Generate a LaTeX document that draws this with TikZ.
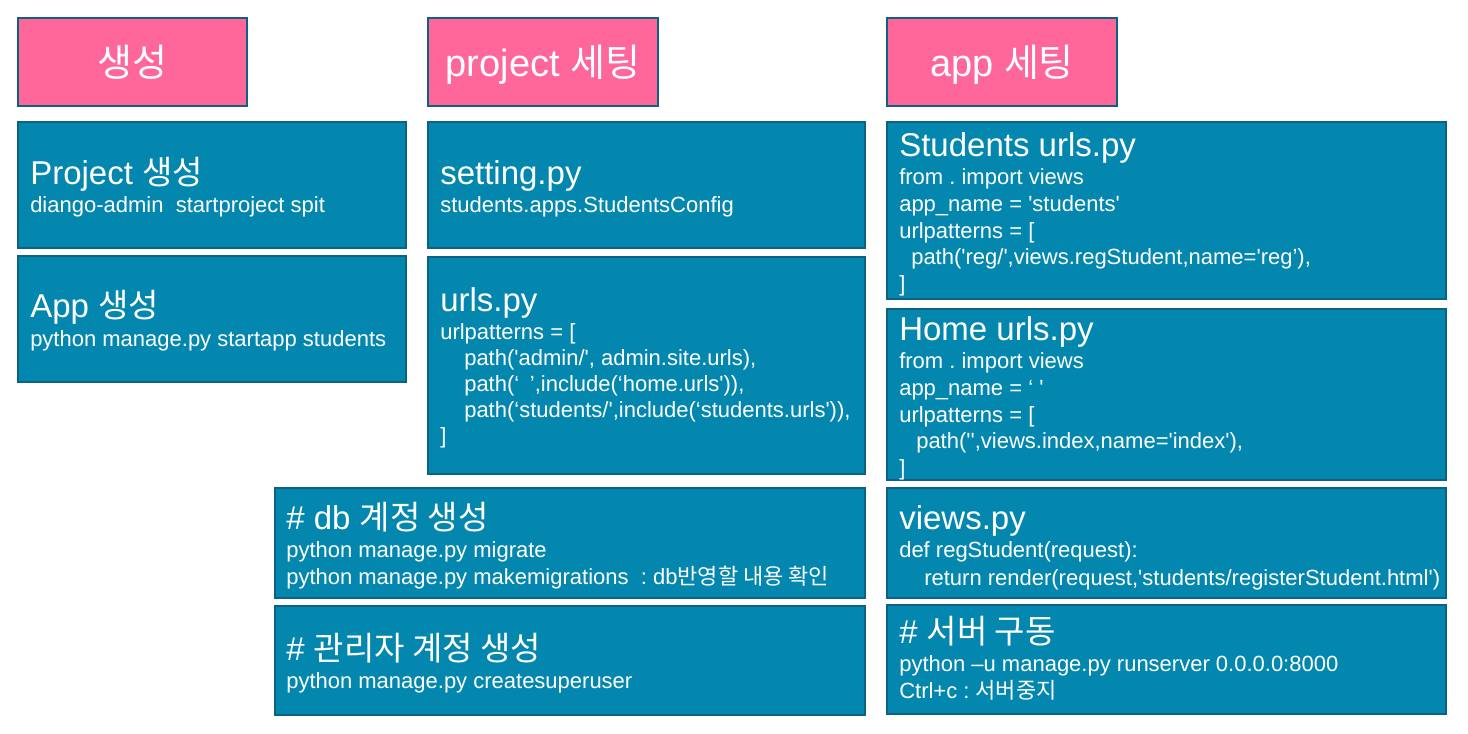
\documentclass[tikz,border=0pt]{standalone}
\usepackage{fontspec}
\setmainfont{Liberation Sans}[Ligatures=TeXOff]
\newfontfamily\kr{Noto Sans CJK KR}
\newcommand\ko[1]{{\kr #1}}
\usetikzlibrary{fit}
\definecolor{tealfill}{RGB}{3,135,174}
\definecolor{tealline}{RGB}{12,98,130}
\definecolor{pinkfill}{RGB}{255,102,153}
\frenchspacing
\begin{document}
\begin{tikzpicture}[x=0.75pt,y=-0.75pt,
  card/.style={draw=tealline, line width=1.5pt, fill=tealfill, inner sep=0pt},
  pinkcard/.style={card, fill=pinkfill},
  ttl/.style={text=white, inner sep=0pt, anchor=base west, font=\fontsize{24.75}{29}\selectfont},
  txt/.style={text=white, inner sep=0pt, anchor=base west, font=\fontsize{16.5}{20}\selectfont},
  lbl/.style={text=white, inner sep=0pt, anchor=base, font=\fontsize{28.5}{32}\selectfont}]
\useasboundingbox (0,0) rectangle (1468,733);

% header boxes
\node[pinkcard, fit={(18,18) (247,106)}] (h1) {};
\node[pinkcard, fit={(428,18) (658,106)}] (h2) {};
\node[pinkcard, fit={(887,18) (1117,106)}] (h3) {};
\node[lbl] (h1t) at (132.5,76) {\ko{생성}};
\node[lbl] (h2t) at (543,76) {project \ko{세팅}};
\node[lbl] (h3t) at (1002,76) {app \ko{세팅}};

% column 1
\node[card, fit={(18,122) (406,248)}] (c1a) {};
\node[ttl] (c1a1) at (30,184) {Project \ko{생성}};
\node[txt] (c1a2) at (30,212) {diango-admin\ \ startproject spit};
\node[card, fit={(18,256) (406,382)}] (c1b) {};
\node[ttl] (c1b1) at (30,317) {App \ko{생성}};
\node[txt] (c1b2) at (30,346) {python manage.py startapp students};

% column 2
\node[card, fit={(428,122) (865,248)}] (c2a) {};
\node[ttl] (c2a1) at (440,184) {setting.py};
\node[txt] (c2a2) at (440,212) {students.apps.StudentsConfig};
\node[card, fit={(428,257) (865,474)}] (c2b) {};
\node[ttl] (c2b1) at (440,311) {urls.py};
\node[txt] (c2b2) at (440,339) {urlpatterns = [};
\node[txt] (c2b3) at (464,365) {path('admin/', admin.site.urls),};
\node[txt] (c2b4) at (464,391) {path(‘\hspace{8pt}’,include(‘home.urls')),};
\node[txt] (c2b5) at (464,417) {path(‘students/',include(‘students.urls')),};
\node[txt] (c2b6) at (440,443) {]};

\node[card, fit={(275,488) (865,598)}] (c2c) {};
\node[ttl] (c2c1) at (286,529) {\# db \ko{계정 생성}};
\node[txt] (c2c2) at (286,557) {python manage.py migrate};
\node[txt] (c2c3) at (286,584) {python manage.py makemigrations\ \ : db\ko{반영할 내용 확인}};
\node[card, fit={(275,606) (865,715)}] (c2d) {};
\node[ttl] (c2d1) at (286,660) {\# \ko{관리자 계정 생성}};
\node[txt] (c2d2) at (286,688) {python manage.py createsuperuser};

% column 3
\node[card, fit={(887,122) (1446,299)}] (c3a) {};
\node[ttl] (c3a1) at (899,156) {Students urls.py};
\node[txt] (c3a2) at (899,184) {from . import views};
\node[txt] (c3a3) at (899,211) {app\_name = 'students'};
\node[txt] (c3a4) at (899,238) {urlpatterns = [};
\node[txt] (c3a5) at (911,264) {path('reg/',views.regStudent,name='reg’),};
\node[txt] (c3a6) at (899,291) {]};

\node[card, fit={(887,309) (1446,480)}] (c3b) {};
\node[ttl] (c3b1) at (899,340) {Home urls.py};
\node[txt] (c3b2) at (899,368) {from . import views};
\node[txt] (c3b3) at (899,395) {app\_name = ‘ '};
\node[txt] (c3b4) at (899,422) {urlpatterns = [};
\node[txt] (c3b5) at (916,448) {path('',views.index,name='index'),};
\node[txt] (c3b6) at (899,475) {]};

\node[card, fit={(887,488) (1446,598)}] (c3c) {};
\node[ttl] (c3c1) at (899,529) {views.py};
\node[txt] (c3c2) at (899,557) {def regStudent(request):};
\node[txt] (c3c3) at (924,585) {return render(request,'students/registerStudent.html')};

\node[card, fit={(887,605) (1446,714)}] (c3d) {};
\node[ttl] (c3d1) at (899,643) {\# \ko{서버 구동}};
\node[txt] (c3d2) at (899,671) {python –u manage.py runserver 0.0.0.0:8000};
\node[txt] (c3d3) at (899,698) {Ctrl+c : \ko{서버중지}};
\end{tikzpicture}
\end{document}
